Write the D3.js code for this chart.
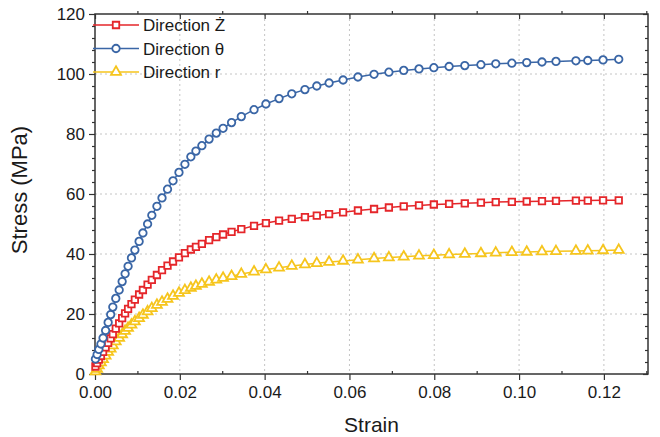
<!DOCTYPE html>
<html>
<head>
<meta charset="utf-8">
<script src="https://cdn.jsdelivr.net/npm/d3@7/dist/d3.min.js"></script>
<style>
  body { margin: 0; background: #fff; }
  svg text { font-family: "Liberation Sans", Arial, sans-serif; fill: #1a1a1a; }
</style>
</head>
<body>
<div id="chart"></div>
<script>
// strain samples shared by the three curves
const strain = [0.0001, 0.0005, 0.0009, 0.0014, 0.0019, 0.0025, 0.0031, 0.0037, 0.0042, 0.0049,
  0.0057, 0.0064, 0.0071, 0.0078, 0.0086, 0.0094, 0.0104, 0.0113, 0.0124, 0.0134,
  0.0146, 0.0158, 0.0171, 0.0184, 0.0198, 0.0212, 0.0226, 0.0238, 0.0252, 0.0269,
  0.0286, 0.0302, 0.0322, 0.0345, 0.0375, 0.0403, 0.0434, 0.0464, 0.0495, 0.0523,
  0.0552, 0.0585, 0.0620, 0.0658, 0.0693, 0.0728, 0.0764, 0.0799, 0.0835, 0.0872,
  0.0910, 0.0945, 0.0983, 0.1018, 0.1054, 0.1087, 0.1134, 0.1162, 0.1198, 0.1235];

const stressZ = [2.5, 3.6, 4.8, 6.0, 7.4, 8.9, 10.4, 11.9, 13.3, 15.1,
  16.9, 18.6, 20.2, 21.7, 23.3, 24.8, 26.5, 28.0, 29.8, 31.4,
  33.0, 34.6, 36.1, 37.5, 38.9, 40.3, 41.5, 42.4, 43.4, 44.6,
  45.6, 46.5, 47.4, 48.3, 49.4, 50.3, 51.1, 51.7, 52.3, 52.8,
  53.3, 53.9, 54.5, 55.0, 55.5, 55.9, 56.2, 56.5, 56.7, 56.9,
  57.1, 57.3, 57.4, 57.5, 57.6, 57.7, 57.8, 57.8, 57.9, 57.9];

const stressTheta = [5.0, 6.5, 8.2, 10.0, 12.0, 14.5, 17.2, 19.8, 22.3, 25.2,
  28.0, 30.8, 33.4, 35.9, 38.7, 41.3, 44.2, 47.0, 50.0, 52.9,
  55.9, 58.7, 61.6, 64.4, 67.2, 69.9, 72.4, 74.3, 76.1, 78.3,
  80.3, 81.9, 83.8, 85.8, 88.1, 90.0, 91.8, 93.4, 94.8, 96.0,
  97.0, 98.0, 99.0, 99.9, 100.6, 101.2, 101.7, 102.1, 102.5, 102.8,
  103.1, 103.4, 103.6, 103.8, 104.0, 104.2, 104.4, 104.5, 104.7, 104.9];

const stressR = [0.8, 1.7, 2.8, 3.8, 4.9, 6.1, 7.3, 8.4, 9.5, 10.8,
  12.0, 13.2, 14.3, 15.3, 16.4, 17.5, 18.6, 19.7, 20.8, 21.9,
  23.0, 24.0, 25.0, 26.0, 27.0, 27.9, 28.7, 29.3, 30.0, 30.7,
  31.4, 32.0, 32.6, 33.3, 34.1, 34.8, 35.4, 36.0, 36.5, 36.9,
  37.3, 37.7, 38.1, 38.5, 38.8, 39.1, 39.4, 39.6, 39.8, 40.0,
  40.2, 40.4, 40.6, 40.7, 40.8, 40.9, 41.0, 41.1, 41.2, 41.3];

const seriesNames = ["Direction \u017B", "Direction \u03B8", "Direction r"];
const xTicks = [0, 0.02, 0.04, 0.06, 0.08, 0.10, 0.12];
const xMinor = [0.01, 0.03, 0.05, 0.07, 0.09, 0.11, 0.13];
const yTicks = [0, 20, 40, 60, 80, 100, 120];
const yMinor = d3.range(0, 121, 4).filter(v => v % 20 !== 0);

const margin = {top: 14, right: 12, bottom: 63, left: 95},
  width = 660 - margin.left - margin.right,
  height = 437 - margin.top - margin.bottom;

const svg = d3.select("#chart")
  .append("svg")
  .attr("width", 660)
  .attr("height", 437)
  .append("g")
  .attr("transform", "translate(" + margin.left + "," + margin.top + ")");

const x = d3.scaleLinear().domain([0, 0.1304]).range([0, width]);
const y = d3.scaleLinear().domain([0, 120]).range([height, 0]);

// dotted grid at major ticks
svg.append("g").selectAll("line")
  .data(xTicks.filter(d => d > 0))
  .join("line")
  .attr("x1", d => x(d)).attr("x2", d => x(d))
  .attr("y1", 0).attr("y2", height)
  .attr("stroke", "#c4c4c4").attr("stroke-width", 1)
  .attr("stroke-dasharray", "2,3");

svg.append("g").selectAll("line")
  .data(yTicks.filter(d => d > 0 && d < 120))
  .join("line")
  .attr("x1", 0).attr("x2", width)
  .attr("y1", d => y(d)).attr("y2", d => y(d))
  .attr("stroke", "#c4c4c4").attr("stroke-width", 1)
  .attr("stroke-dasharray", "2,3");

// axes
function styleAxis(g) {
  g.select(".domain").remove();
  g.selectAll("line").attr("stroke", "#333").attr("stroke-width", 1.2);
  g.selectAll("text").style("font-size", "17px");
}

svg.append("g")
  .attr("transform", "translate(0," + height + ")")
  .call(d3.axisBottom(x).tickValues(xTicks).tickFormat(d3.format(".2f"))
    .tickSizeInner(6).tickSizeOuter(0).tickPadding(6))
  .call(styleAxis);
svg.append("g")
  .attr("transform", "translate(0," + height + ")")
  .call(d3.axisBottom(x).tickValues(xMinor).tickFormat("").tickSize(-3))
  .call(styleAxis);

svg.append("g")
  .call(d3.axisLeft(y).tickValues(yTicks).tickSizeInner(6).tickSizeOuter(0).tickPadding(4))
  .call(styleAxis);
svg.append("g")
  .call(d3.axisLeft(y).tickValues(yMinor).tickFormat("").tickSize(3))
  .call(styleAxis);

// mirrored ticks on top and right
svg.append("g")
  .call(d3.axisTop(x).tickValues(xTicks).tickFormat("").tickSize(-5))
  .call(styleAxis);
svg.append("g")
  .call(d3.axisTop(x).tickValues(xMinor).tickFormat("").tickSize(3))
  .call(styleAxis);
svg.append("g")
  .attr("transform", "translate(" + width + ",0)")
  .call(d3.axisRight(y).tickValues(yTicks).tickFormat("").tickSize(-5))
  .call(styleAxis);
svg.append("g")
  .attr("transform", "translate(" + width + ",0)")
  .call(d3.axisRight(y).tickValues(yMinor).tickFormat("").tickSize(-3))
  .call(styleAxis);

// frame
svg.append("rect")
  .attr("width", width).attr("height", height)
  .attr("fill", "none").attr("stroke", "#333").attr("stroke-width", 1.5);

// axis titles
svg.append("text")
  .attr("x", width / 2).attr("y", height + 58)
  .attr("text-anchor", "middle")
  .style("font-size", "21px")
  .text("Strain");

svg.append("text")
  .attr("transform", "translate(" + (-68) + "," + (height / 2 - 4) + ") rotate(-90)")
  .attr("text-anchor", "middle")
  .style("font-size", "22px")
  .text("Stress (MPa)");

// curves
const series = [
  {name: seriesNames[0], values: stressZ, color: "#e5262a", symbol: d3.symbolSquare, size: 42},
  {name: seriesNames[1], values: stressTheta, color: "#3a66a6", symbol: d3.symbolCircle, size: 44},
  {name: seriesNames[2], values: stressR, color: "#f6c51d", symbol: d3.symbolTriangle, size: 42}
];

const line = d3.line()
  .x(d => x(d[0]))
  .y(d => y(d[1]));

// draw r first, then Z, then theta on top
[2, 0, 1].forEach(i => {
  const s = series[i];
  const pts = strain.map((e, j) => [e, s.values[j]]);
  const g = svg.append("g");
  g.append("path")
    .datum(pts)
    .attr("d", line)
    .attr("fill", "none")
    .attr("stroke", s.color)
    .attr("stroke-width", 1.5);
  g.selectAll("path.mark")
    .data(pts)
    .join("path")
    .attr("class", "mark")
    .attr("transform", d => "translate(" + x(d[0]) + "," + y(d[1]) + ")")
    .attr("d", d3.symbol().type(s.symbol).size(s.size))
    .attr("fill", "#fff")
    .attr("stroke", s.color)
    .attr("stroke-width", 1.8);
});

// legend
const legend = svg.append("g")
  .attr("transform", "translate(0,0)");

const items = legend.selectAll("g")
  .data(series)
  .join("g")
  .attr("transform", (d, i) => "translate(0," + (11 + i * 23.5) + ")");

items.append("line")
  .attr("x1", -2).attr("x2", 44)
  .attr("stroke", d => d.color)
  .attr("stroke-width", 1.5);

items.append("path")
  .attr("transform", "translate(21,0)")
  .attr("d", d => d3.symbol().type(d.symbol).size(d.size)())
  .attr("fill", "#fff")
  .attr("stroke", d => d.color)
  .attr("stroke-width", 1.8);

items.append("text")
  .attr("x", 48).attr("y", 6)
  .style("font-size", "17px")
  .text(d => d.name);
</script>
</body>
</html>
